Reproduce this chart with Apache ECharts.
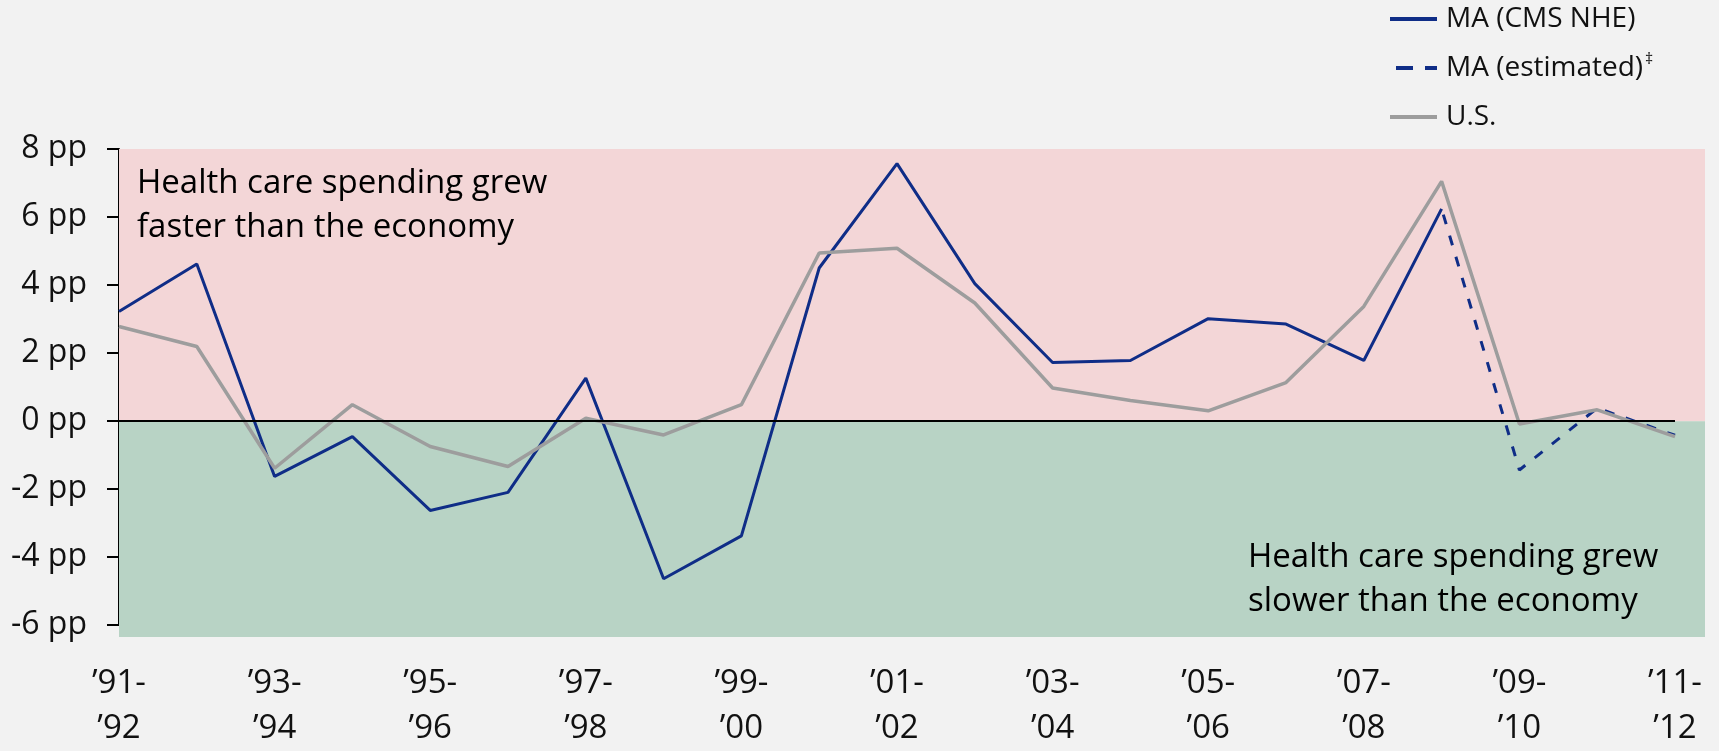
<!DOCTYPE html>
<html>
<head>
<meta charset="utf-8">
<title>Health care spending vs economy</title>
<script src="https://cdn.jsdelivr.net/npm/echarts@6.0.0/dist/echarts.min.js"></script>
<style>
    html, body { margin: 0; padding: 0; background: #f2f2f2; }
    #charts { width: 1719px; height: 751px; }
</style>
</head>
<body>
<div id="charts"></div>
<script>
// 年份区间 (每个点一个)
var categories = [
    '’91-\n’92', '’92-\n’93', '’93-\n’94', '’94-\n’95', '’95-\n’96', '’96-\n’97',
    '’97-\n’98', '’98-\n’99', '’99-\n’00', '’00-\n’01', '’01-\n’02', '’02-\n’03',
    '’03-\n’04', '’04-\n’05', '’05-\n’06', '’06-\n’07', '’07-\n’08', '’08-\n’09',
    '’09-\n’10', '’10-\n’11', '’11-\n’12'
];

// percentage points
var maNhe = [3.22, 4.62, -1.63, -0.46, -2.63, -2.10, 1.26, -4.64, -3.38, 4.50,
    7.57, 4.04, 1.72, 1.78, 3.01, 2.85, 1.78, 6.24, null, null, null];
var maEstimated = [null, null, null, null, null, null, null, null, null, null,
    null, null, null, null, null, null, null, 6.24, -1.44, 0.38, -0.42];
var us = [2.78, 2.19, -1.39, 0.48, -0.75, -1.34, 0.08, -0.41, 0.48, 4.94,
    5.08, 3.47, 0.97, 0.60, 0.30, 1.13, 3.37, 7.05, -0.09, 0.33, -0.46];

var yTicks = { min: -6, max: 8, step: 2 };
var bandSplit = 0;

showChart();

function showChart() {
    var font = '"Open Sans", "Noto Sans", sans-serif';
    var blue = '#0f2d87';
    var grey = '#9d9d9d';

    var myChart = echarts.init(document.getElementById('charts'));
    myChart.setOption({
        animation: false,
        backgroundColor: '#f2f2f2',
        textStyle: { fontFamily: font },
        grid: [
            // main plot
            { left: 119, right: 44, top: 149, bottom: 126 },
            // background bands, a bit wider and taller
            { left: 119, right: 14, top: 149, bottom: 114 }
        ],
        legend: {
            orient: 'vertical',
            left: 1388,
            top: 2,
            padding: 0,
            itemWidth: 47,
            itemHeight: 14,
            itemGap: 15,
            selectedMode: false,
            data: [
                'MA (CMS NHE)',
                { name: 'MA (estimated)', lineStyle: { type: [17, 12] } },
                'U.S.'
            ],
            // hide the little circle, keep only the line
            itemStyle: { color: 'rgba(0,0,0,0)', borderWidth: 0, opacity: 0 },
            lineStyle: { width: 4 },
            formatter: function (name) {
                if (name === 'MA (estimated)') {
                    return '{n|' + name + '}{s|‡}';
                }
                return name;
            },
            textStyle: {
                fontFamily: font,
                fontSize: 28,
                lineHeight: 34,
                color: '#111',
                padding: [0, 0, 0, 4],
                rich: {
                    n: { fontFamily: font, fontSize: 28, lineHeight: 34, color: '#111' },
                    s: { fontFamily: font, fontSize: 16, lineHeight: 34, verticalAlign: 'top', color: '#111', padding: [0, 0, 0, 2] }
                }
            }
        },
        xAxis: [
            {
                type: 'category',
                gridIndex: 0,
                data: categories,
                boundaryGap: false,
                axisLine: { show: false, onZero: false },
                axisTick: { show: false },
                axisLabel: {
                    interval: 1,
                    margin: 36,
                    fontFamily: font,
                    fontSize: 33,
                    lineHeight: 45,
                    color: '#111'
                }
            },
            { type: 'value', gridIndex: 1, min: 0, max: 1, show: false }
        ],
        yAxis: [
            {
                type: 'value',
                gridIndex: 0,
                min: yTicks.min,
                max: yTicks.max,
                interval: yTicks.step,
                axisLine: { show: true, lineStyle: { color: '#000', width: 2 } },
                axisTick: { show: true, inside: false, length: 12, lineStyle: { color: '#000', width: 2 } },
                splitLine: { show: false },
                axisLabel: {
                    margin: 32,
                    fontFamily: font,
                    fontSize: 32,
                    color: '#111',
                    formatter: '{value} pp'
                }
            },
            { type: 'value', gridIndex: 1, min: -6.34, max: yTicks.max, show: false }
        ],
        graphic: [
            {
                type: 'text',
                left: 137,
                top: 162,
                z: 10,
                style: {
                    text: 'Health care spending grew\nfaster than the economy',
                    font: '33px ' + font,
                    lineHeight: 44,
                    fill: '#000'
                }
            },
            {
                type: 'text',
                left: 1248,
                top: 536,
                z: 10,
                style: {
                    text: 'Health care spending grew\nslower than the economy',
                    font: '33px ' + font,
                    lineHeight: 44,
                    fill: '#000'
                }
            }
        ],
        series: [
            {
                // 背景色块
                type: 'line',
                xAxisIndex: 1,
                yAxisIndex: 1,
                data: [],
                z: 0,
                silent: true,
                markArea: {
                    silent: true,
                    data: [
                        [{ yAxis: yTicks.max, itemStyle: { color: '#f3d6d7' } }, { yAxis: bandSplit }],
                        [{ yAxis: bandSplit, itemStyle: { color: '#b8d3c5' } }, { yAxis: -6.34 }]
                    ]
                }
            },
            {
                // zero line
                type: 'line',
                xAxisIndex: 0,
                yAxisIndex: 0,
                data: [],
                z: 1,
                silent: true,
                markLine: {
                    silent: true,
                    symbol: 'none',
                    label: { show: false },
                    lineStyle: { color: '#000', width: 2, type: 'solid' },
                    data: [{ yAxis: 0 }]
                }
            },
            {
                name: 'MA (CMS NHE)',
                type: 'line',
                data: maNhe,
                symbol: 'none',
                z: 3,
                lineStyle: { color: blue, width: 3 },
                itemStyle: { color: blue }
            },
            {
                name: 'MA (estimated)',
                type: 'line',
                data: maEstimated,
                symbol: 'none',
                z: 3,
                lineStyle: { color: blue, width: 3, type: [10, 12], dashOffset: -6 },
                itemStyle: { color: blue }
            },
            {
                name: 'U.S.',
                type: 'line',
                data: us,
                symbol: 'none',
                z: 4,
                lineStyle: { color: grey, width: 3.5 },
                itemStyle: { color: grey }
            }
        ]
    });
}
</script>
</body>
</html>
